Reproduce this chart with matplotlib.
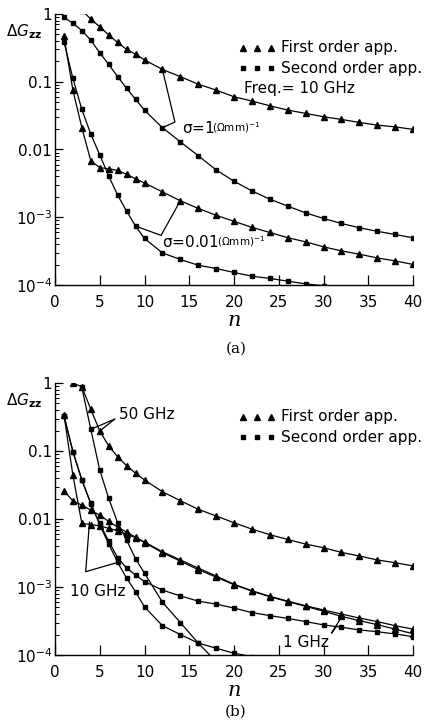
import numpy as np
import matplotlib
matplotlib.use('Agg')
import matplotlib.pyplot as plt
from matplotlib.ticker import FixedLocator, FixedFormatter, LogLocator, NullFormatter

plt.rcParams['font.family'] = ['DejaVu Sans']
plt.rcParams['mathtext.default'] = 'regular'

# ---------------- data: panel (a), Freq = 10 GHz ----------------
n_a_first_s1 = [3, 4, 5, 6, 7, 8, 9, 10] + list(range(12, 41, 2))
a_first_s1 = [1.15, 0.835, 0.65, 0.49, 0.38, 0.30, 0.256, 0.21,
              0.152, 0.119, 0.092, 0.0754, 0.060, 0.0519, 0.0442, 0.0382,
              0.0341, 0.0304, 0.0278, 0.0251, 0.0229, 0.0216, 0.0198]

n_a_second_s1 = list(range(1, 11)) + list(range(12, 41, 2))
a_second_s1 = [0.89, 0.73, 0.57, 0.41, 0.268, 0.18, 0.119, 0.080, 0.055, 0.038,
               0.021, 0.013, 0.0081, 0.0050, 0.0034, 0.00245, 0.00185, 0.00146,
               0.00116, 0.00096, 0.00081, 0.0007, 0.00062, 0.000557, 0.000497]

n_a_first_s001 = list(range(1, 11)) + list(range(12, 41, 2))
a_first_s001 = [0.47, 0.075, 0.021, 0.0068, 0.0054, 0.0052, 0.0049, 0.0043, 0.0037, 0.0032,
                0.00237, 0.00175, 0.00135, 0.00107, 0.00087, 0.00071, 0.000596, 0.0005,
                0.000433, 0.000366, 0.000319, 0.000285, 0.000251, 0.000227, 0.000201]

n_a_second_s001 = list(range(1, 11)) + list(range(12, 31, 2))
a_second_s001 = [0.39, 0.112, 0.039, 0.0169, 0.0083, 0.00405, 0.00212, 0.00123, 0.00074, 0.000486,
                 0.000298, 0.000238, 0.000196, 0.000175, 0.000153, 0.000135, 0.000125,
                 0.000114, 0.000104, 0.0000975]

# ---------------- data: panel (b), frequencies ----------------
n_b_first_50 = list(range(2, 11)) + list(range(12, 41, 2))
b_first_50 = [1.0, 0.88, 0.41, 0.197, 0.119, 0.082, 0.061, 0.047, 0.0375,
              0.0252, 0.0186, 0.0139, 0.0111, 0.0088, 0.0071, 0.00588, 0.0050,
              0.00428, 0.00378, 0.00323, 0.00286, 0.0025, 0.00228, 0.00204]

n_b_second_50 = list(range(3, 11)) + list(range(12, 19, 2))
b_second_50 = [0.86, 0.208, 0.0526, 0.0201, 0.0088, 0.0049, 0.0026, 0.0016,
               0.0006, 0.0003, 0.00015, 0.00008]

n_b_first_10 = list(range(1, 11)) + list(range(12, 41, 2))
b_first_10 = [0.34, 0.044, 0.0086, 0.0083, 0.0079, 0.0073, 0.0067, 0.006, 0.0053, 0.0046,
              0.0033, 0.0025, 0.0019, 0.00145, 0.0011, 0.00088, 0.00073, 0.00062,
              0.00053, 0.00046, 0.0004, 0.00035, 0.00031, 0.00027, 0.00024]

n_b_second_10 = list(range(1, 11)) + list(range(12, 23, 2))
b_second_10 = [0.33, 0.098, 0.0375, 0.017, 0.0082, 0.0043, 0.0023, 0.00135, 0.00085, 0.00051,
               0.00027, 0.0002, 0.00015, 0.000126, 0.000106, 0.000095]

n_b_first_1 = list(range(1, 11)) + list(range(12, 41, 2))
b_first_1 = [0.026, 0.0184, 0.016, 0.0135, 0.0114, 0.0092, 0.0076, 0.0064, 0.0054, 0.0045,
             0.0032, 0.0024, 0.0018, 0.0014, 0.00108, 0.00087, 0.00072, 0.00061,
             0.00052, 0.00044, 0.00037, 0.00032, 0.00028, 0.00024, 0.000205]

n_b_second_1 = list(range(1, 11)) + list(range(12, 41, 2))
b_second_1 = [0.33, 0.098, 0.0375, 0.0168, 0.0086, 0.0047, 0.0027, 0.0019, 0.0015, 0.0012,
              0.0009, 0.00074, 0.00062, 0.00056, 0.00049, 0.00042, 0.00038, 0.000345,
              0.00031, 0.000277, 0.000256, 0.000234, 0.00022, 0.000204, 0.000186]

xticks = [0, 5, 10, 15, 20, 25, 30, 35, 40]
yticks = [1e-4, 1e-3, 1e-2, 1e-1, 1]
ytick_labels = ['$10^{-4}$', '$10^{-3}$', '0.01', '0.1', '1']

W, H = 428, 723
fig = plt.figure(figsize=(W / 100, H / 100), dpi=100)

def make_axes(left_px, right_px, top_px, bottom_px):
    return fig.add_axes([left_px / W, 1 - bottom_px / H,
                         (right_px - left_px) / W, (bottom_px - top_px) / H])

axa = make_axes(55, 413, 14, 285)
axb = make_axes(55, 413, 383, 655)

LW = 0.9
tri = dict(marker='^', markersize=4.2, color='black', lw=LW)
sq = dict(marker='s', markersize=3.3, color='black', lw=LW)

def style(ax):
    ax.set_yscale('log')
    ax.set_xlim(0, 40)
    ax.set_ylim(1e-4, 1)
    for s in ['top', 'right']:
        ax.spines[s].set_visible(False)
    for s in ['left', 'bottom']:
        ax.spines[s].set_linewidth(1.0)
    ax.xaxis.set_major_locator(FixedLocator(xticks))
    ax.yaxis.set_major_locator(FixedLocator(yticks))
    ax.yaxis.set_major_formatter(FixedFormatter(ytick_labels))
    ax.yaxis.set_minor_locator(LogLocator(base=10, subs=np.arange(2, 10)))
    ax.yaxis.set_minor_formatter(NullFormatter())
    ax.tick_params(axis='x', direction='in', length=7, width=0.9, pad=7, labelsize=11)
    ax.tick_params(axis='y', which='major', direction='in', length=6, width=0.9, pad=2, labelsize=11)
    ax.tick_params(axis='y', which='minor', direction='in', length=3, width=0.7)
    ax.set_xlabel('n', fontsize=15, family='DejaVu Serif', style='italic', labelpad=1)
    ax.text(-0.138, 0.918, r'$\Delta\mathit{G}_{\mathbf{zz}}$', transform=ax.transAxes,
            fontsize=11, ha='left', va='baseline')

def legend(ax, extra=None):
    xs = [0.524, 0.564, 0.603]
    for y, m, lab, ms in [(0.876, '^', 'First order app.', 4.2), (0.800, 's', 'Second order app.', 3.3)]:
        ax.plot(xs, [y] * 3, ls='none', marker=m, markersize=ms, color='black',
                transform=ax.transAxes, clip_on=False)
        ax.text(0.630, y, lab, transform=ax.transAxes, fontsize=11, va='center', ha='left')
    if extra:
        ax.text(0.528, 0.726, extra, transform=ax.transAxes, fontsize=11, va='center', ha='left')

def bracket(ax, p1, v, p2):
    ax.plot([p1[0], v[0], p2[0]], [p1[1], v[1], p2[1]], color='black', lw=0.9)

def val(ns, vs, n):
    return vs[ns.index(n)]

# ---------- panel (a) ----------
style(axa)
axa.plot(n_a_first_s1, a_first_s1, **tri)
axa.plot(n_a_second_s1, a_second_s1, **sq)
axa.plot(n_a_first_s001, a_first_s001, **tri)
axa.plot(n_a_second_s001, a_second_s001, **sq)
legend(axa, 'Freq.= 10 GHz')

bracket(axa, (12, val(n_a_first_s1, a_first_s1, 12)), (13.4, 0.0254),
        (12, val(n_a_second_s1, a_second_s1, 12)))
axa.text(14.2, 0.0207, r'$\sigma$=1', fontsize=11, va='center', ha='left')
axa.text(17.5, 0.0207, r'($\Omega$mm)$^{-1}$', fontsize=7.5, va='center', ha='left')

bracket(axa, (14, val(n_a_first_s001, a_first_s001, 14)), (11.85, 0.00054),
        (9, val(n_a_second_s001, a_second_s001, 9)))
axa.text(12.0, 0.00043, r'$\sigma$=0.01', fontsize=11, va='center', ha='left')
axa.text(18.1, 0.00043, r'($\Omega$mm)$^{-1}$', fontsize=7.5, va='center', ha='left')

fig.text(236 / W, 1 - 349 / H, '(a)', fontsize=11, family='DejaVu Serif',
         ha='center', va='center')

# ---------- panel (b) ----------
style(axb)
axb.plot(n_b_first_50, b_first_50, **tri)
axb.plot(n_b_second_50, b_second_50, **sq)
axb.plot(n_b_first_10, b_first_10, **tri)
axb.plot(n_b_second_10, b_second_10, **sq)
axb.plot(n_b_first_1, b_first_1, **tri)
axb.plot(n_b_second_1, b_second_1, **sq)
legend(axb)

bracket(axb, (4, val(n_b_second_50, b_second_50, 4)), (6.7, 0.296),
        (5, val(n_b_first_50, b_first_50, 5)))
axb.text(7.2, 0.34, '50 GHz', fontsize=11, va='center', ha='left')

bracket(axb, (3.85, 0.009), (3.43, 0.00168),
        (7, val(n_b_second_10, b_second_10, 7)))
axb.text(1.7, 0.00085, '10 GHz', fontsize=11, va='center', ha='left')

bracket(axb, (32, 0.00036), (30.9, 0.00021), (31.5, 0.00027))
axb.text(30.6, 0.000155, '1 GHz', fontsize=11, va='center', ha='right')

fig.text(236 / W, 1 - 712 / H, '(b)', fontsize=11, family='DejaVu Serif',
         ha='center', va='center')

fig.savefig('out.png', dpi=100)
